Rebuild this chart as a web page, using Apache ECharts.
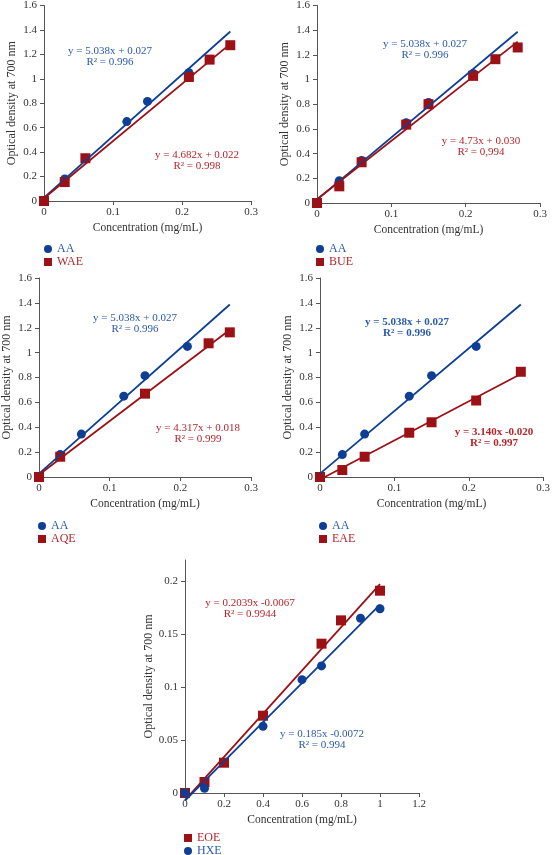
<!DOCTYPE html>
<html>
<head>
<meta charset="utf-8">
<script src="https://cdn.jsdelivr.net/npm/echarts@6/dist/echarts.min.js"></script>
<style>
html,body{margin:0;padding:0;background:#fff;}
#chart{width:553px;height:855px;}
</style>
</head>
<body>
<div id="chart"></div>
<script>
// ---- Data ----
const aaX = [0, 0.03, 0.06, 0.12, 0.15, 0.21];
const aaY = [0, 0.18, 0.345, 0.65, 0.815, 1.05];
const aaFit = [[0, 0.027], [0.27, 1.387]];

const waeX = [0, 0.03, 0.06, 0.21, 0.24, 0.27];
const waeY = [0, 0.155, 0.35, 1.015, 1.157, 1.275];
const waeFit = [[0, 0.022], [0.27, 1.286]];

const bueX = [0, 0.03, 0.06, 0.12, 0.15, 0.21, 0.24, 0.27];
const bueY = [0, 0.135, 0.33, 0.635, 0.80, 1.03, 1.165, 1.26];
const bueFit = [[0, 0.030], [0.27, 1.307]];

const aqeX = [0, 0.03, 0.15, 0.24, 0.27];
const aqeY = [0, 0.163, 0.67, 1.075, 1.163];
const aqeFit = [[0, 0.018], [0.27, 1.184]];

const eaeX = [0, 0.03, 0.06, 0.12, 0.15, 0.21, 0.27];
const eaeY = [0, 0.056, 0.163, 0.356, 0.44, 0.615, 0.846];
const eaeFit = [[0, -0.020], [0.27, 0.828]];

const eoeX = [0, 0.1, 0.2, 0.4, 0.7, 0.8, 1.0];
const eoeY = [0, 0.0104, 0.0286, 0.073, 0.141, 0.163, 0.191];
const eoeFit = [[0, -0.0067], [1, 0.1972]];

const hxeX = [0, 0.1, 0.4, 0.6, 0.7, 0.9, 1.0];
const hxeY = [0, 0.0044, 0.063, 0.107, 0.120, 0.165, 0.174];
const hxeFit = [[0, -0.0072], [1, 0.1778]];

const eqAA = ['y = 5.038x + 0.027', 'R² = 0.996'];
const eqWAE = ['y = 4.682x + 0.022', 'R² = 0.998'];
const eqBUE = ['y = 4.73x + 0.030', 'R² = 0,994'];
const eqAQE = ['y = 4.317x + 0.018', 'R² = 0.999'];
const eqEAE = ['y = 3.140x -0.020', 'R² = 0.997'];
const eqEOE = ['y = 0.2039x -0.0067', 'R² = 0.9944'];
const eqHXE = ['y = 0.185x -0.0072', 'R² = 0.994'];

const xTitle = 'Concentration (mg/mL)';
const yTitle = 'Optical density at 700 nm';

// ---- Style ----
const FONT = '"Liberation Serif", "DejaVu Serif", serif';
const BLUE = '#0e3f94';
const RED = '#9b1116';
const BLUE_T = '#2a5aab';
const RED_T = '#b3262b';
const AXIS = '#555';
const LABEL = '#333';

const zip = (xs, ys) => xs.map((x, i) => [x, ys[i]]);

const panels = [
  {grid: {left: 44, top: 5, width: 207, height: 196}, xmax: 0.3, xint: 0.1, ymax: 1.6, yint: 0.2,
   s1: {name: 'AA', x: aaX, y: aaY, fit: aaFit, color: BLUE, sym: 'circle'},
   s2: {name: 'WAE', x: waeX, y: waeY, fit: waeFit, color: RED, sym: 'rect'}, order: [1, 2],
   legend: {left: 44, top: 243}},
  {grid: {left: 317, top: 5, width: 223, height: 198}, xmax: 0.3, xint: 0.1, ymax: 1.6, yint: 0.2,
   s1: {name: 'AA', x: aaX, y: aaY, fit: aaFit, color: BLUE, sym: 'circle'},
   s2: {name: 'BUE', x: bueX, y: bueY, fit: bueFit, color: RED, sym: 'rect'}, order: [1, 2],
   legend: {left: 316, top: 243}},
  {grid: {left: 39, top: 278, width: 212, height: 199}, xmax: 0.3, xint: 0.1, ymax: 1.6, yint: 0.2,
   s1: {name: 'AA', x: aaX, y: aaY, fit: aaFit, color: BLUE, sym: 'circle'},
   s2: {name: 'AQE', x: aqeX, y: aqeY, fit: aqeFit, color: RED, sym: 'rect'}, order: [1, 2],
   legend: {left: 38, top: 520}},
  {grid: {left: 320, top: 278, width: 227, height: 199}, xmax: 0.3, xint: 0.1, ymax: 1.6, yint: 0.2,
   s1: {name: 'AA', x: aaX, y: aaY, fit: aaFit, color: BLUE, sym: 'circle'},
   s2: {name: 'EAE', x: eaeX, y: eaeY, fit: eaeFit, color: RED, sym: 'rect'}, order: [1, 2],
   legend: {left: 319, top: 520}},
  {grid: {left: 185, top: 560, width: 234, height: 233}, xmax: 1.2, xint: 0.2, ymax: 0.22, yint: 0.05,
   s1: {name: 'HXE', x: hxeX, y: hxeY, fit: hxeFit, color: BLUE, sym: 'circle'},
   s2: {name: 'EOE', x: eoeX, y: eoeY, fit: eoeFit, color: RED, sym: 'rect'}, order: [2, 1],
   legend: {left: 184, top: 832}}
];

const grid = [], xAxis = [], yAxis = [], series = [], legend = [];

panels.forEach((p, i) => {
  grid.push(Object.assign({containLabel: false}, p.grid));
  xAxis.push({
    type: 'value', gridIndex: i, min: 0, max: p.xmax, interval: p.xint,
    name: xTitle, nameLocation: 'middle', nameGap: 21,
    nameTextStyle: {fontFamily: FONT, fontSize: 11.5, color: LABEL},
    axisLine: {show: true, lineStyle: {color: AXIS, width: 1}},
    axisTick: {show: true, length: 4, lineStyle: {color: AXIS}},
    axisLabel: {fontFamily: FONT, fontSize: 11, color: LABEL, margin: 6},
    splitLine: {show: false}
  });
  yAxis.push({
    type: 'value', gridIndex: i, min: 0, max: p.ymax, interval: p.yint,
    name: yTitle, nameLocation: 'middle', nameGap: 26,
    nameTextStyle: {fontFamily: FONT, fontSize: 12, color: LABEL},
    axisLine: {show: true, lineStyle: {color: AXIS, width: 1}},
    axisTick: {show: true, length: 4, lineStyle: {color: AXIS}},
    axisLabel: {fontFamily: FONT, fontSize: 11, color: LABEL, margin: 7, showMaxLabel: p.ymax !== 0.22},
    splitLine: {show: false}
  });
  const ss = {1: p.s1, 2: p.s2};
  p.order.forEach((k, j) => {
    const s = ss[k];
    series.push({
      type: 'scatter', name: s.name, xAxisIndex: i, yAxisIndex: i,
      data: zip(s.x, s.y), symbol: s.sym, symbolSize: s.sym === 'rect' ? 10 : 9,
      itemStyle: {color: s.color, opacity: 1}, z: 2 + j, silent: true
    });
  });
  p.order.forEach((k) => {
    const s = ss[k];
    series.push({
      type: 'line', name: s.name + ' fit', xAxisIndex: i, yAxisIndex: i,
      data: s.fit, showSymbol: false, symbol: 'none', clip: false,
      lineStyle: {color: s.color, width: 1.8}, z: 5, silent: true
    });
  });
  const items = (i === 4 ? [p.s2, p.s1] : [p.s1, p.s2]).map(s => ({
    name: s.name, icon: s.sym === 'rect' ? 'rect' : 'circle',
    itemStyle: {color: s.color, opacity: 1},
    textStyle: {color: s.color === BLUE ? BLUE_T : RED_T}
  }));
  legend.push({
    orient: 'vertical', left: p.legend.left, top: p.legend.top, height: 40,
    itemWidth: 8, itemHeight: 8, itemGap: 1, padding: 0,
    textStyle: {fontFamily: FONT, fontSize: 12},
    selectedMode: false, data: items
  });
});

function eqText(lines, cx, cy, color, bold) {
  return lines.map((t, k) => ({
    type: 'text', x: cx, y: cy + k * 11.5,
    style: {text: t, x: 0, y: 0, fill: color, font: (bold ? 'bold ' : '') + '11px ' + FONT,
            textAlign: 'center', textVerticalAlign: 'middle'}
  }));
}

const graphic = [].concat(
  eqText(eqAA, 110, 51, BLUE_T), eqText(eqWAE, 197, 155, RED_T),
  eqText(eqAA, 425, 44, BLUE_T), eqText(eqBUE, 481, 141, RED_T),
  eqText(eqAA, 135, 318, BLUE_T), eqText(eqAQE, 198, 428, RED_T),
  eqText(eqAA, 407, 322, BLUE_T, true), eqText(eqEAE, 494, 432, RED_T, true),
  eqText(eqEOE, 250, 603, RED_T), eqText(eqHXE, 322, 734, BLUE_T)
);

const chart = echarts.init(document.getElementById('chart'), null, {renderer: 'canvas'});
chart.setOption({
  backgroundColor: '#fff', animation: false,
  grid, xAxis, yAxis, series, legend, graphic
});
</script>
</body>
</html>
